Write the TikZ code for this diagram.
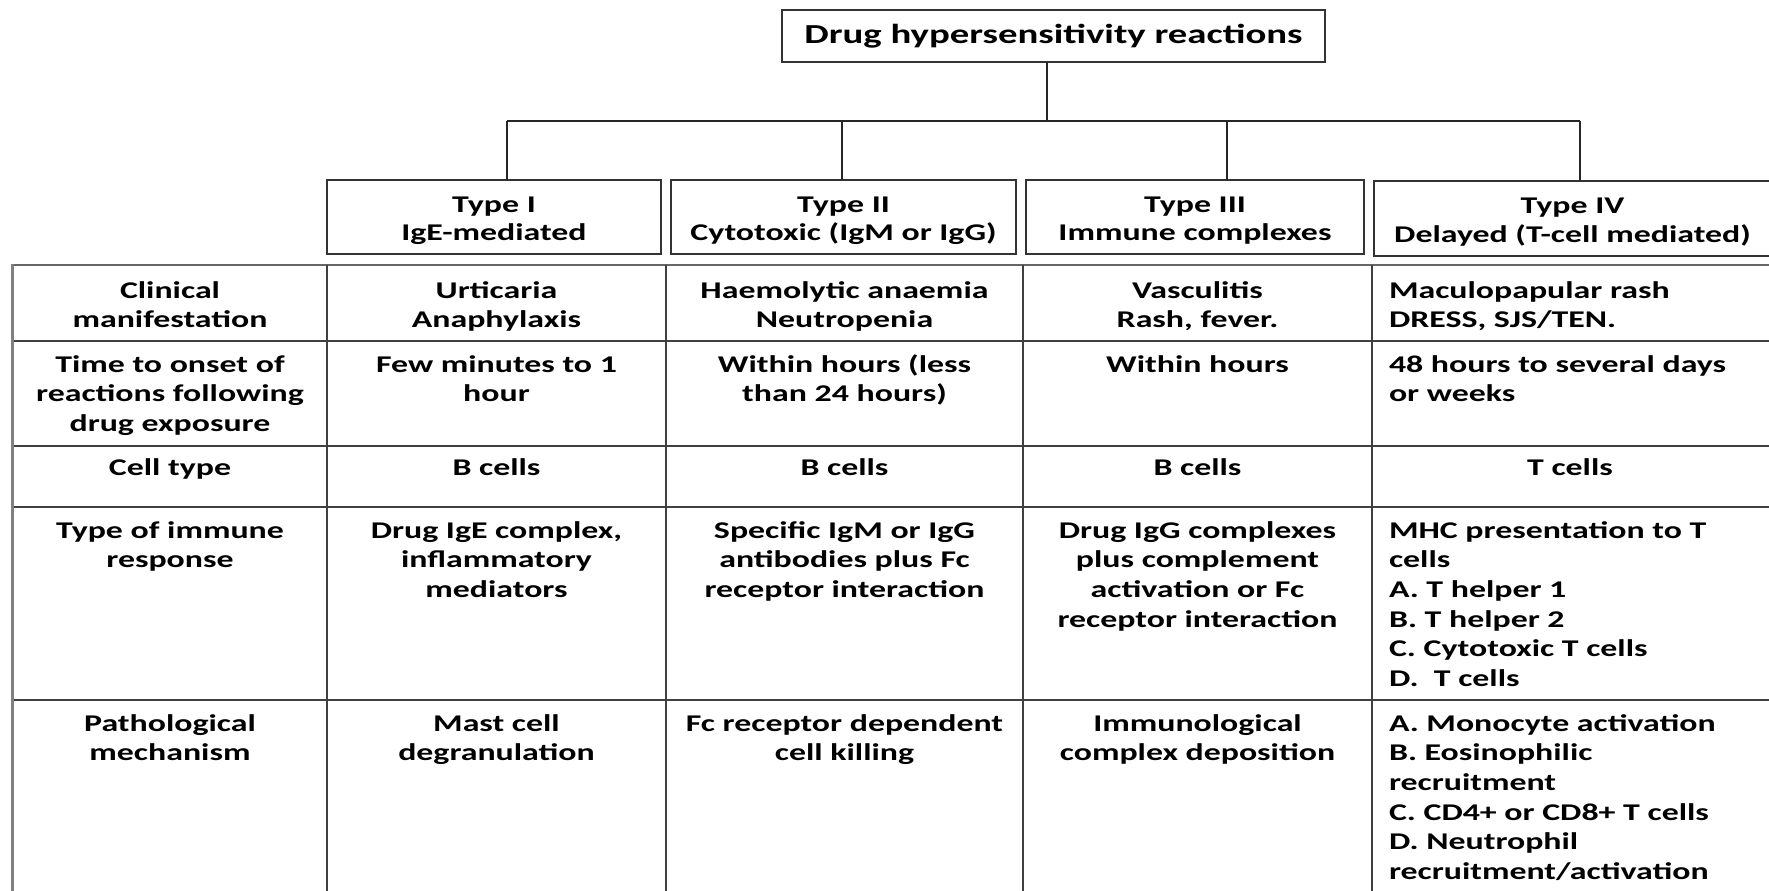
\documentclass[tikz,border=0pt]{standalone}
\usepackage{fontspec}
\setmainfont{Carlito}[FakeStretch=1.41]
\newcommand{\fl}{\rule{0pt}{20pt}}
\newcommand{\tl}{\rule{0pt}{23pt}}
\tikzset{
  every node/.style={inner sep=0pt, outer sep=0pt},
  cell/.style={font=\bfseries\fontsize{24}{29.7}\selectfont, align=center, anchor=north},
  lcell/.style={font=\bfseries\fontsize{24}{29.7}\selectfont, align=left, anchor=north west},
  tbox/.style={draw=black!80, line width=1.6pt, align=center, font=\bfseries\fontsize{24}{28.5}\selectfont},
  gridline/.style={draw=black!75, line width=1.5pt},
  conn/.style={draw=black!85, line width=1.6pt},
}
\begin{document}
\begin{tikzpicture}[x=1pt,y=-1pt]
\useasboundingbox (0,0) rectangle (1769,891);
\clip (0,0) rectangle (1769,891);
\fill[white] (0,0) rectangle (1769,891);

% title
\node[tbox, minimum width=543pt, minimum height=52pt, font=\bfseries\fontsize{27.5}{34}\selectfont] (T) at (1053.5,36) {Drug hypersensitivity reactions};

% type boxes
\node[tbox, minimum width=334pt, minimum height=74pt] (t1) at (494,217) {\tl Type I\\IgE-mediated};
\node[tbox, minimum width=345pt, minimum height=74pt] (t2) at (843.5,217) {\tl Type II\\Cytotoxic (IgM or IgG)};
\node[tbox, minimum width=338pt, minimum height=74pt] (t3) at (1195,217) {\tl Type III\\Immune complexes};
\node[tbox, minimum width=397pt, minimum height=75pt] (t4) at (1572.5,218.5) {\tl Type IV\\Delayed (T-cell mediated)};

% connectors
\coordinate (hub) at (1047,121);
\coordinate (d1) at (507,121);
\coordinate (d2) at (842,121);
\coordinate (d3) at (1227,121);
\coordinate (d4) at (1580,121);
\draw[conn] (T.south -| hub) -- (hub);
\draw[conn] (d1) -- (d4);
\foreach \i in {1,2,3,4} {\draw[conn] (d\i) -- (d\i |- t\i.north);}

% table grid
\foreach \yy in {341,446,507,700} {\draw[gridline] (12,\yy) -- (1780,\yy);}
\draw[draw=black!60, line width=2.2pt] (12,265) -- (1780,265);
\foreach \xx in {327,666,1023,1372} {\draw[gridline] (\xx,265) -- (\xx,900);}
\draw[draw=black!50, line width=3pt] (12,264) -- (12,900);

% row 1
\node[cell] (r1c0) at (170,278) {\fl Clinical\\manifestation};
\node[cell] (r1c1) at (496.5,278) {\fl Urticaria\\Anaphylaxis};
\node[cell] (r1c2) at (844.5,278) {\fl Haemolytic anaemia\\Neutropenia};
\node[cell] (r1c3) at (1197.5,278) {\fl Vasculitis\\Rash, fever.};
\node[lcell] (r1c4) at (1389,278) {\fl Maculopapular rash\\DRESS, SJS/TEN.};

% row 2
\node[cell] (r2c0) at (170,352) {\fl Time to onset of\\reactions following\\drug exposure};
\node[cell] (r2c1) at (496.5,352) {\fl Few minutes to 1\\hour};
\node[cell] (r2c2) at (844.5,352) {\fl Within hours (less\\than 24 hours)};
\node[cell] (r2c3) at (1197.5,352) {\fl Within hours};
\node[lcell] (r2c4) at (1389,352) {\fl 48 hours to several days\\or weeks};

% row 3
\node[cell] (r3c0) at (170,455) {\fl Cell type};
\node[cell] (r3c1) at (496.5,455) {\fl B cells};
\node[cell] (r3c2) at (844.5,455) {\fl B cells};
\node[cell] (r3c3) at (1197.5,455) {\fl B cells};
\node[cell] (r3c4) at (1570,455) {\fl T cells};

% row 4
\node[cell] (r4c0) at (170,518) {\fl Type of immune\\response};
\node[cell] (r4c1) at (496.5,518) {\fl Drug IgE complex,\\inflammatory\\mediators};
\node[cell] (r4c2) at (844.5,518) {\fl Specific IgM or IgG\\antibodies plus Fc\\receptor interaction};
\node[cell] (r4c3) at (1197.5,518) {\fl Drug IgG complexes\\plus complement\\activation or Fc\\receptor interaction};
\node[lcell] (r4c4) at (1389,518) {\fl MHC presentation to T\\cells\\A. T helper 1\\B. T helper 2\\C. Cytotoxic T cells\\D.~\ T cells};

% row 5
\node[cell] (r5c0) at (170,711) {\fl Pathological\\mechanism};
\node[cell] (r5c1) at (496.5,711) {\fl Mast cell\\degranulation};
\node[cell] (r5c2) at (844.5,711) {\fl Fc receptor dependent\\cell killing};
\node[cell] (r5c3) at (1197.5,711) {\fl Immunological\\complex deposition};
\node[lcell] (r5c4) at (1389,711) {\fl A. Monocyte activation\\B. Eosinophilic\\recruitment\\C. CD4+ or CD8+ T cells\\D. Neutrophil\\recruitment/activation};
\end{tikzpicture}
\end{document}
